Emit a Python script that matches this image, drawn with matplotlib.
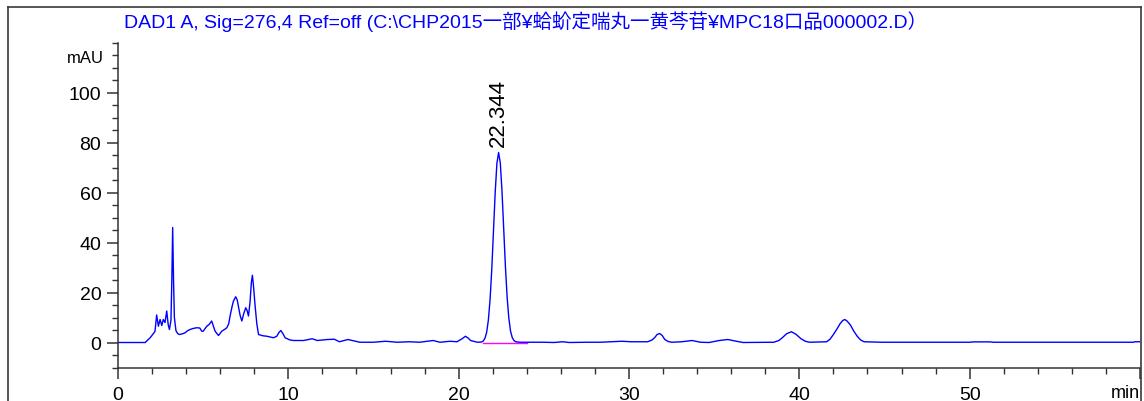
import matplotlib
matplotlib.use("Agg")
import matplotlib.pyplot as plt
from matplotlib.lines import Line2D
from matplotlib.ticker import MultipleLocator, FixedLocator

# ---- data ----
time_min = [0.0, 1.6, 1.9, 2.1, 2.17, 2.27, 2.37, 2.47, 2.57, 2.66, 2.76, 2.86, 2.95, 3.02, 3.11,
            3.16, 3.21, 3.26, 3.31, 3.40, 3.5, 3.6, 3.8, 3.94, 4.1, 4.23, 4.4, 4.62, 4.8, 4.92,
            5.0, 5.21, 5.35, 5.5, 5.6, 5.7, 5.9, 6.09, 6.25, 6.39, 6.5, 6.58, 6.7, 6.78, 6.91,
            7.0, 7.07, 7.17, 7.27, 7.38, 7.5, 7.58, 7.66, 7.75, 7.83, 7.89, 7.95, 8.05, 8.15,
            8.25, 8.5, 8.74, 9.13, 9.32, 9.45, 9.56, 9.68, 9.81, 10.1, 10.3, 10.9, 11.4, 11.7,
            12.3, 12.7, 13.0, 13.5, 14.2, 15.0, 15.7, 16.4, 17.1, 17.7, 18.5, 18.9, 19.5, 19.9,
            20.2, 20.4, 20.55, 20.7, 21.1, 21.344, 21.444, 21.544, 21.644, 21.744, 21.844,
            21.944, 22.044, 22.144, 22.244, 22.344, 22.444, 22.544, 22.644, 22.744, 22.844,
            22.944, 23.044, 23.144, 23.244, 23.344, 23.6, 24.0, 25.0, 25.6, 26.1, 26.5, 27.5,
            28.3, 29.6, 30.1, 31.1, 31.35, 31.5, 31.65, 31.8, 31.95, 32.1, 32.3, 32.5, 33.1,
            33.7, 34.2, 34.7, 35.3, 35.8, 36.3, 36.7, 38.5, 38.8, 39.0, 39.25, 39.54, 39.8,
            40.1, 40.35, 40.6, 41.6, 41.8, 42.0, 42.2, 42.4, 42.55, 42.67, 42.8, 43.0, 43.2,
            43.4, 43.6, 43.8, 44.8, 50.0, 50.2, 51.2, 51.4, 59.6, 59.7, 60.0]
signal_mau = [0.0, 0.0, 2.0, 3.8, 4.4, 11.0, 6.5, 9.2, 6.8, 9.2, 8.0, 12.6, 7.0, 5.2, 9.0,
              25.0, 46.0, 25.0, 10.0, 4.8, 3.6, 3.2, 3.5, 3.9, 4.8, 5.2, 5.6, 5.9, 5.8, 4.5,
              4.5, 6.5, 7.2, 8.6, 6.5, 4.5, 2.8, 4.5, 5.2, 5.9, 7.5, 10.6, 14.5, 16.6, 18.3,
              17.0, 14.5, 10.8, 8.6, 11.5, 13.9, 12.8, 10.6, 16.0, 24.0, 26.9, 23.0, 14.6, 7.5,
              3.2, 2.7, 2.5, 1.9, 2.5, 4.0, 4.8, 3.6, 1.9, 1.0, 0.8, 0.8, 1.5, 0.8,
              1.2, 1.3, 0.3, 1.2, 0.1, 0.1, 0.5, 0.1, 0.3, 0.1, 0.8, 0.1, 0.5, 0.3,
              1.5, 2.5, 1.8, 0.8, 0.1, 0.2, 0.6, 1.7, 4.1, 9.0, 17.2,
              29.4, 44.5, 59.9, 71.6, 76.0, 71.8, 60.5, 45.5, 30.5, 18.2,
              9.8, 4.6, 2.0, 0.8, 0.3, 0.1, 0.1, 0.1, 0.0, 0.3, 0.0, 0.1,
              0.1, 0.5, 0.3, 0.3, 1.0, 1.9, 3.2, 3.6, 2.8, 1.2, 0.4, 0.1, 0.3,
              0.8, 0.1, 0.0, 0.8, 1.2, 0.5, 0.0, 0.1, 0.8, 1.9, 3.5, 4.3, 3.3,
              1.5, 0.5, 0.1, 0.3, 1.3, 3.2, 5.3, 7.6, 8.8, 9.2, 8.6, 7.0, 4.5,
              2.5, 1.0, 0.3, 0.1, 0.1, 0.25, 0.25, 0.1, 0.1, 0.3, 0.3]

peak_rt = 22.344
peak_height = 76.0
peak_label = "22.344"
baseline_start, baseline_end = 21.4, 24.0

title = "DAD1 A, Sig=276,4 Ref=off (C:\\CHP2015一部¥蛤蚧定喘丸一黄芩苷¥MPC18口品000002.D）"
x_major = [0, 10, 20, 30, 40, 50, 60]
x_labels = ["0", "10", "20", "30", "40", "50", ""]
y_major = [0, 20, 40, 60, 80, 100]
y_labels = ["0", "20", "40", "60", "80", "100"]

# ---- figure ----
W, H = 1144, 402
fig = plt.figure(figsize=(W / 100, H / 100), dpi=100)
ax = fig.add_axes([118 / W, 1 - 368.5 / H, (1140 - 118) / W, 325 / H])

ax.plot(time_min, signal_mau, color="#0000ff", lw=1.0, solid_joinstyle="round")
ax.plot([baseline_start, baseline_end], [0, 0], color="#ff00ff", lw=1.0, zorder=1)

ax.set_xlim(0, 60)
ax.set_ylim(-10, 120)

spine_col = "#333333"
for s in ("top", "right"):
    ax.spines[s].set_visible(False)
for s in ("left", "bottom"):
    ax.spines[s].set_color(spine_col)
    ax.spines[s].set_linewidth(1.1)

ax.xaxis.set_major_locator(FixedLocator(x_major))
ax.set_xticklabels(x_labels)
ax.xaxis.set_minor_locator(MultipleLocator(2))
ax.yaxis.set_major_locator(FixedLocator(y_major))
ax.set_yticklabels(y_labels)
ax.yaxis.set_minor_locator(MultipleLocator(5))

ax.tick_params(axis="x", which="major", direction="out", length=8, width=1.1,
               color=spine_col, labelsize=14, pad=5)
ax.tick_params(axis="y", which="major", direction="out", length=8, width=1.1,
               color=spine_col, labelsize=14, pad=4)
ax.tick_params(axis="both", which="minor", direction="out", length=4.5, width=1.0,
               color=spine_col)
for lab in ax.get_xticklabels() + ax.get_yticklabels():
    lab.set_fontfamily("Liberation Sans")

ax.text(-0.0135, 114, "mAU", transform=ax.get_yaxis_transform(), ha="right", va="center",
        fontsize=12, family="Liberation Sans")
ax.text(1.0, -0.05, "min", transform=ax.transAxes, ha="right", va="top",
        fontsize=13, family="Liberation Sans")

ax.annotate(peak_label, xy=(peak_rt, peak_height), xytext=(0, 5), textcoords="offset points",
            rotation=90, ha="center", va="bottom", fontsize=16, family="Liberation Sans")

fig.text(124 / W, 1 - 27.5 / H, title, ha="left", va="baseline", color="#0000ff",
         fontsize=14, family=["Liberation Sans", "Noto Sans CJK JP"])

# outer frame
px = fig.transFigure
frame_col = "#3a3a3a"
fig.add_artist(Line2D([8 / W, 1140.5 / W], [1 - 8 / H, 1 - 8 / H], transform=px, color=frame_col, lw=1.2))
fig.add_artist(Line2D([8 / W, 8 / W], [0, 1 - 8 / H], transform=px, color=frame_col, lw=1.2))
fig.add_artist(Line2D([1140.5 / W, 1140.5 / W], [0, 1 - 8 / H], transform=px, color=frame_col, lw=1.2))

fig.savefig("out.png", dpi=100)
